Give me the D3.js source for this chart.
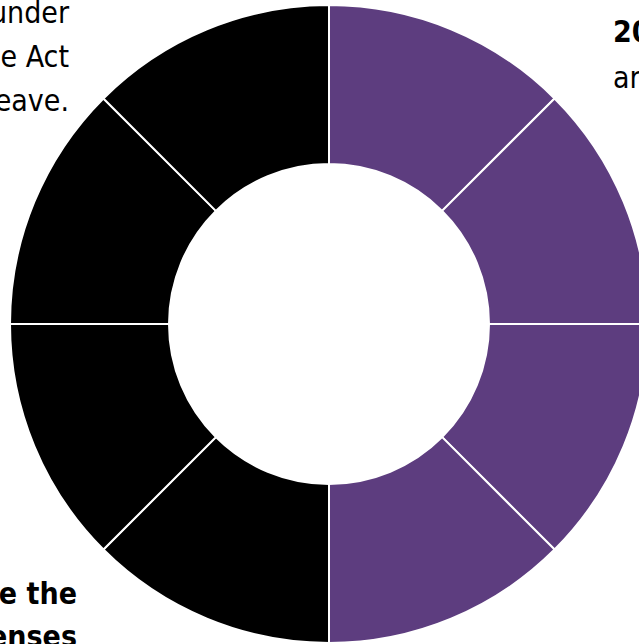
<!DOCTYPE html>
<html>
<head>
<meta charset="utf-8">
<script src="https://cdn.jsdelivr.net/npm/d3@7"></script>
<style>
  html, body { margin: 0; padding: 0; background: #fff; overflow: hidden; }
  svg { display: block; }
</style>
</head>
<body>
<svg id="chart" width="639" height="644"></svg>
<script>
// Data
const segments = ["s1", "s2", "s3", "s4", "s5", "s6", "s7", "s8"];
const segmentValues = [1, 1, 1, 1, 1, 1, 1, 1];
const segmentGroups = ["right", "right", "right", "right", "left", "left", "left", "left"];
const groupNames = ["right", "left"];
const groupColors = ["#5d3d7f", "#000000"];

const topLeftLines = ["under", "e Act", "eave."];
const topRightLines = [{ t: "20", bold: true }, { t: "ar", bold: false }];
const bottomLeftLines = ["e the", "enses"];

const svg = d3.select("#chart");
const cx = 329, cy = 324;
const outerR = 319, innerR = 160;

const color = d3.scaleOrdinal().domain(groupNames).range(groupColors);
const data = segments.map((s, i) => ({ name: s, value: segmentValues[i], group: segmentGroups[i] }));

const pie = d3.pie().value(d => d.value).sort(null).startAngle(0).endAngle(2 * Math.PI);
const arc = d3.arc().innerRadius(innerR).outerRadius(outerR);

const g = svg.append("g").attr("transform", `translate(${cx},${cy})`);
g.selectAll("path")
  .data(pie(data))
  .join("path")
  .attr("d", arc)
  .attr("fill", d => color(d.data.group))
  .attr("stroke", "#fff")
  .attr("stroke-width", 2);

const font = "'DejaVu Sans Condensed', 'DejaVu Sans', Verdana, sans-serif";
const fs = 30;

function styleText(sel) {
  return sel.attr("font-family", font)
    .attr("font-size", fs)
    .style("font-stretch", "condensed")
    .attr("fill", "#000");
}

svg.append("g").selectAll("text")
  .data(topLeftLines)
  .join("text")
  .attr("x", 69)
  .attr("y", (d, i) => 23 + i * 44)
  .attr("text-anchor", "end")
  .call(styleText)
  .text(d => d);

svg.append("g").selectAll("text")
  .data(topRightLines)
  .join("text")
  .attr("x", 613)
  .attr("y", (d, i) => 42 + i * 46)
  .attr("text-anchor", "start")
  .call(styleText)
  .attr("font-weight", d => d.bold ? "bold" : "normal")
  .text(d => d.t);

svg.append("g").selectAll("text")
  .data(bottomLeftLines)
  .join("text")
  .attr("x", 77)
  .attr("y", (d, i) => 604 + i * 43)
  .attr("text-anchor", "end")
  .call(styleText)
  .attr("font-weight", "bold")
  .text(d => d);
</script>
</body>
</html>
